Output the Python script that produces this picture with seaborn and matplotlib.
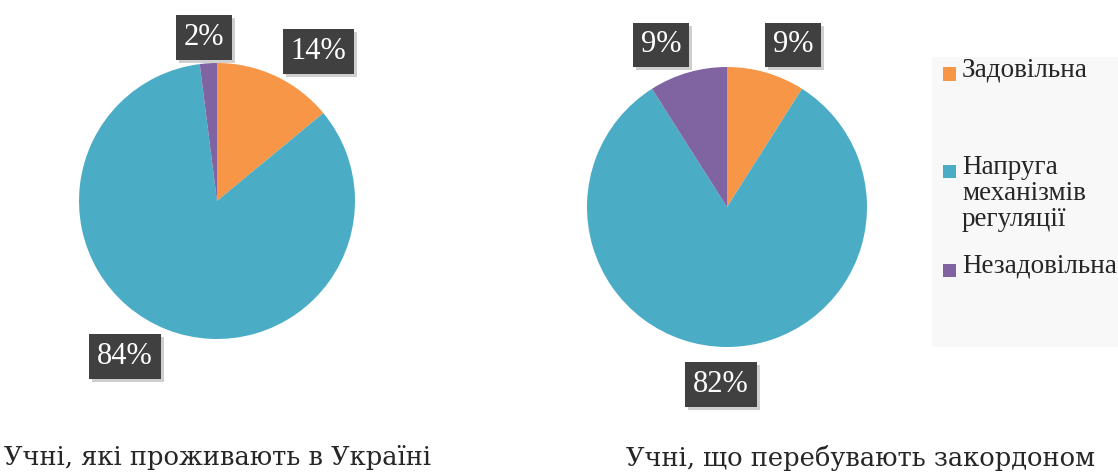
import matplotlib
matplotlib.use("Agg")
import numpy as np
import matplotlib.pyplot as plt
import matplotlib.transforms as mtransforms
from matplotlib.patches import Rectangle
import seaborn as sns

categories = ["Задовільна", "Напруга\nмеханізмів\nрегуляції", "Незадовільна"]
ukraine_values = [14, 84, 2]
abroad_values = [9, 82, 9]
titles = ["Учні, які проживають в Україні", "Учні, що перебувають закордоном"]

colors = ["#F79646", "#4BACC6", "#8064A2"]

sns.set_style("white")
plt.rcParams["font.family"] = ["Liberation Serif", "DejaVu Serif"]

W, H = 1118, 475
fig = plt.figure(figsize=(W / 100, H / 100), dpi=100)


def px_axes(cx, cy, r):
    # axes box (in pixel coords of the reference) holding a unit pie
    return fig.add_axes([(cx - r) / W, (H - cy - r) / H, 2 * r / W, 2 * r / H])


def draw_pie(ax, values, label_dist, angle_nudge):
    wedges, _ = ax.pie(values, colors=colors, startangle=90, counterclock=False,
                       radius=1, wedgeprops=dict(linewidth=0))
    ax.set_xlim(-1, 1)
    ax.set_ylim(-1, 1)
    ax.set_aspect("equal")
    ax.axis("off")
    for w, v, d, da in zip(wedges, values, label_dist, angle_nudge):
        theta = np.deg2rad((w.theta1 + w.theta2) / 2 + da)
        x, y = d * np.cos(theta), d * np.sin(theta)
        shadow = mtransforms.offset_copy(ax.transData, fig=fig, x=3, y=-3, units="dots")
        ax.text(x, y, f"{v}%", transform=shadow, ha="center", va="center",
                fontsize=22, alpha=0.0, clip_on=False,
                bbox=dict(boxstyle="square,pad=0.26", fc="#b0b0b0", ec="none", alpha=0.6))
        ax.text(x, y, f"{v}%", ha="center", va="center", fontsize=22,
                color="white", clip_on=False,
                bbox=dict(boxstyle="square,pad=0.26", fc="#404040", ec="none"))


ax1 = px_axes(217, 201, 138)
draw_pie(ax1, ukraine_values, [1.31, 1.31, 1.19], [-9, -9, 1])

ax2 = px_axes(727, 207, 140)
draw_pie(ax2, abroad_values, [1.25, 1.27, 1.25], [-6, -2, 6])

# titles under the pies (Cambria-like look)
fig.text(218 / W, 1 - 458 / H, titles[0], ha="center", va="center", fontsize=18.5,
         family="DejaVu Serif")
fig.text(861 / W, 1 - 458 / H, titles[1], ha="center", va="center", fontsize=18.5,
         family="DejaVu Serif")

# legend panel
fig.patches.append(Rectangle((932 / W, 1 - 347 / H), 186 / W, 290 / H,
                             transform=fig.transFigure, fc="#f8f8f8", ec="none"))
for i, (lab, c) in enumerate(zip(categories, colors)):
    yc = 74 + i * 98
    fig.patches.append(Rectangle((943 / W, 1 - (yc + 6.5) / H), 13 / W, 13 / H,
                                 transform=fig.transFigure, fc=c, ec="none"))
    fig.text(962 / W, 1 - (yc - 17) / H, lab, ha="left", va="top",
             fontsize=19.5, linespacing=1.05)

fig.savefig("out.png", dpi=100)
